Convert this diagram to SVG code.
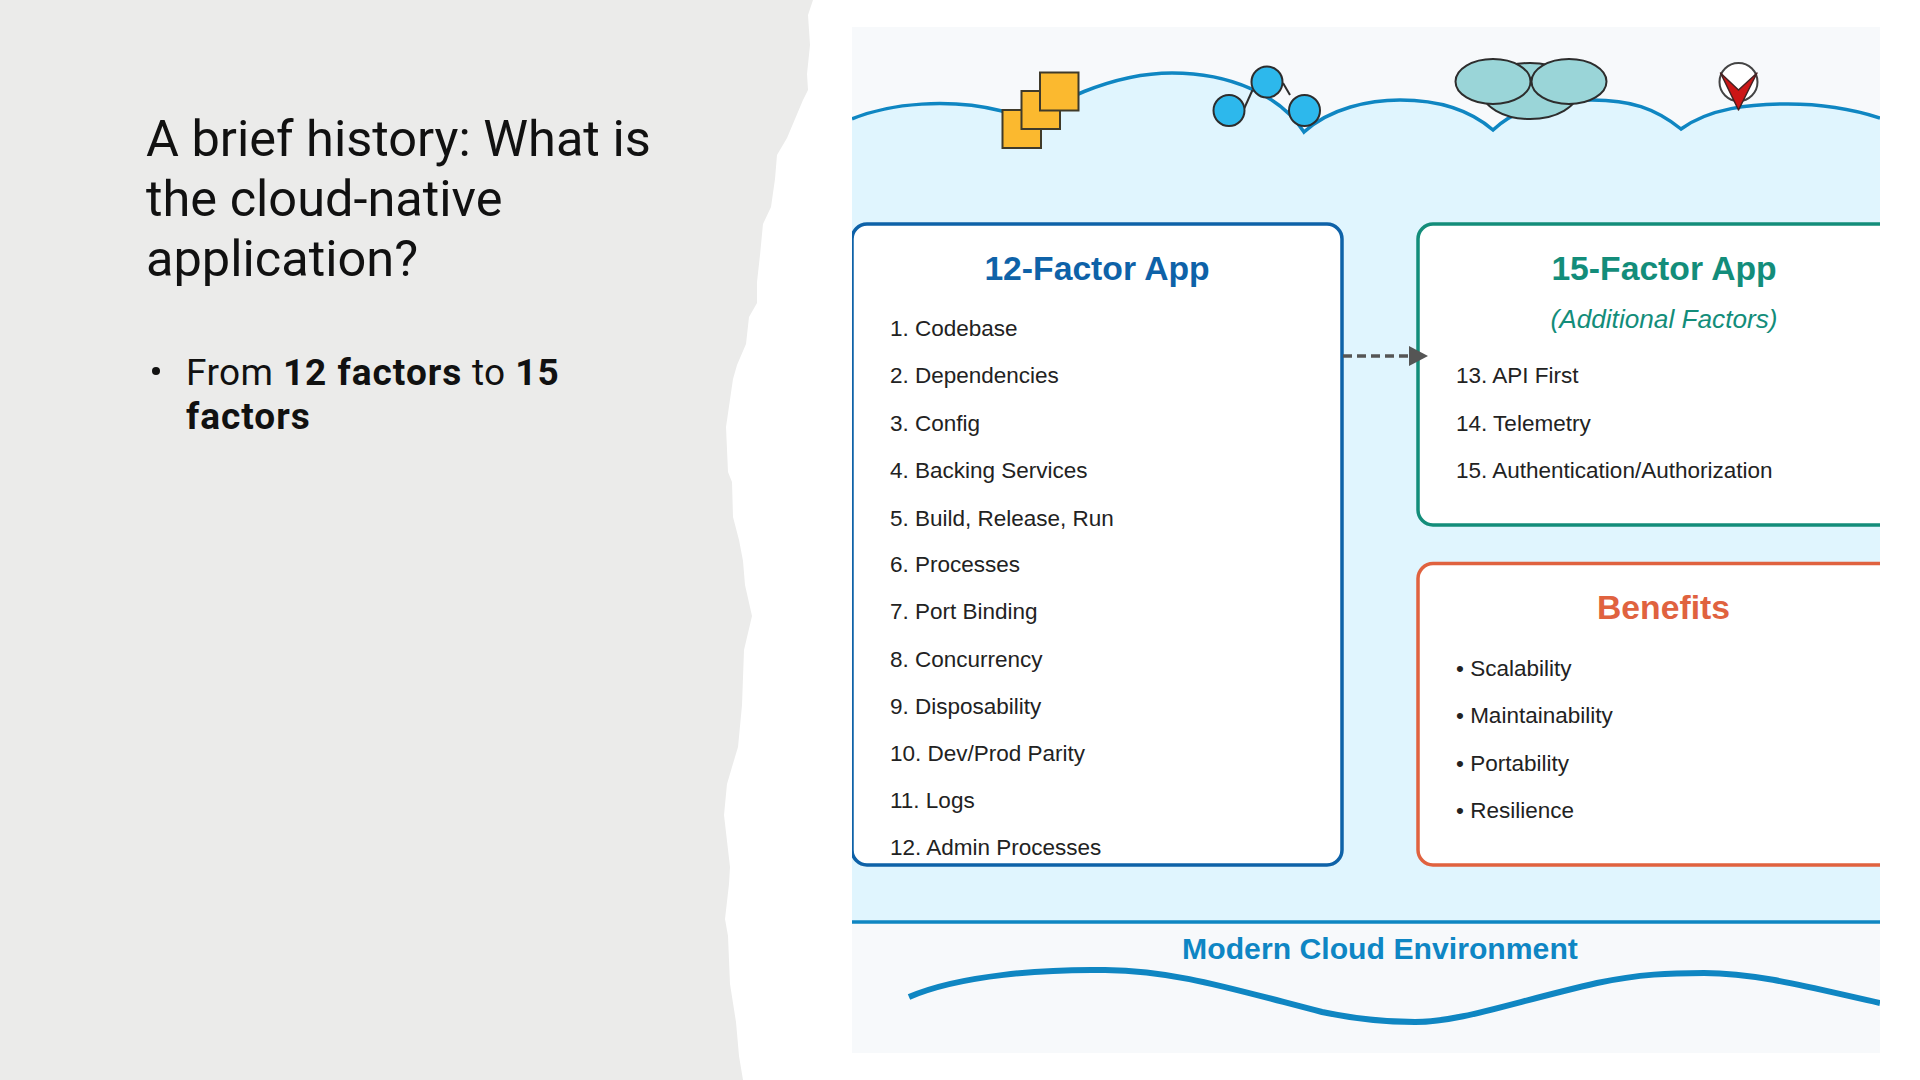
<svg xmlns="http://www.w3.org/2000/svg" width="1920" height="1080" viewBox="0 0 1920 1080">
<style>
.t{font-family:"Liberation Sans",Arial,sans-serif;font-size:22.5px;fill:#222}
.h{font-family:"Liberation Sans",Arial,sans-serif;font-size:33.7px;font-weight:700;text-anchor:middle}
.ttl{font-family:Roboto,"Noto Sans",sans-serif;font-size:50.5px;fill:#111}
.b{font-family:Roboto,"Noto Sans",sans-serif;font-size:37px;fill:#111;letter-spacing:.4px}
.sb{font-weight:700;letter-spacing:1px}
.bx{fill:#fff;stroke-width:3.5}
.dk{stroke:#2d2d2d;stroke-width:2}
</style>
<defs>
<clipPath id="panel"><rect x="852" y="27" width="1028" height="1026"/></clipPath>
<marker id="ah" markerUnits="userSpaceOnUse" markerWidth="19" markerHeight="20" refX="18" refY="10" orient="auto"><path d="M0 0L19 10L0 20Z" fill="#555"/></marker>
</defs>
<rect width="1920" height="1080" fill="#fff"/>
<path id="torn-paper" fill="#ebebea" d="M0 0H813L808 15L810 45L807 74L808 90L803 100L787 138L777 155L775 179L771 207L763 224L760 255L757 282L757 303L749 317L746 344L737 365L733 379L726 427L728 472L732 482L733 517L739 540L743 561L745 585L752 616L744 650L742 705L738 747L732 767L727 784L724 815L730 867L729 884L725 919L728 936L730 984L736 1022L739 1056L743 1080H0Z"/>
<g id="heading">
<text class="ttl" x="146" y="156">A brief history: What is</text>
<text class="ttl" x="146" y="216">the cloud-native</text>
<text class="ttl" x="146" y="276">application?</text>
</g>
<g id="bullet">
<circle cx="156" cy="371" r="4" fill="#111"/>
<text class="b" x="186" y="385">From <tspan class="sb">12 factors</tspan> to <tspan class="sb">15</tspan></text>
<text class="b sb" x="186" y="429">factors</text>
</g>
<g clip-path="url(#panel)">
<g id="backdrop">
<rect x="852" y="27" width="1028" height="1026" fill="#f7f9fb"/>
<path fill="#e0f5fe" d="M852 119C890 103 950 98 1002 111L1021 125C1050 105 1110 73 1172 73C1230 73 1280 95 1304 132C1330 108 1370 100 1400 100C1440 100 1470 110 1493 130C1520 105 1555 100 1592 100C1630 100 1655 108 1681 129C1710 108 1750 104 1788 104C1825 104 1855 110 1880 118V922H852Z"/>
<path fill="none" stroke="#0f86c2" stroke-width="3.5" d="M852 119C890 103 950 98 1002 111L1021 125C1050 105 1110 73 1172 73C1230 73 1280 95 1304 132C1330 108 1370 100 1400 100C1440 100 1470 110 1493 130C1520 105 1555 100 1592 100C1630 100 1655 108 1681 129C1710 108 1750 104 1788 104C1825 104 1855 110 1880 118"/>
<line x1="852" y1="922" x2="1880" y2="922" stroke="#0f86c2" stroke-width="3.5"/>
</g>
<g id="icon-squares" fill="#fbb92f" stroke="#3f3a2a" stroke-width="2">
<rect x="1002.5" y="110" width="38.5" height="38"/>
<rect x="1021.5" y="91" width="38.5" height="38"/>
<rect x="1040" y="72.500" width="38.5" height="38"/>
</g>
<g id="icon-network" fill="#2db8ec" class="dk">
<line x1="1243.500" y1="110" x2="1252.500" y2="90"/>
<line x1="1283" y1="83" x2="1290" y2="95"/>
<circle cx="1229" cy="110.500" r="15.500"/>
<circle cx="1267" cy="82" r="15.500"/>
<circle cx="1304.500" cy="110.500" r="15.500"/>
</g>
<g id="icon-cloud" fill="#9ad5d8" class="dk">
<ellipse cx="1530" cy="91" rx="48" ry="28"/>
<ellipse cx="1493" cy="81.500" rx="37.500" ry="22.500"/>
<ellipse cx="1569" cy="81.500" rx="37.500" ry="22.500"/>
</g>
<g id="icon-check">
<circle cx="1738.500" cy="82" r="19" fill="#fff" stroke="#444" stroke-width="2"/>
<path d="M1720.500 73L1738.500 90L1757 73L1738.500 110Z" fill="#cc1616" stroke="#442222" stroke-width="1.500" stroke-linejoin="round"/>
</g>
<g id="factor-12">
<rect class="bx" x="852" y="224" width="490" height="641" rx="15" stroke="#0e62a8"/>
<text class="h" x="1097" y="280" fill="#0e62a8">12-Factor App</text>
<text class="t" x="890" y="336">1. Codebase</text>
<text class="t" x="890" y="383">2. Dependencies</text>
<text class="t" x="890" y="431">3. Config</text>
<text class="t" x="890" y="478">4. Backing Services</text>
<text class="t" x="890" y="525.500">5. Build, Release, Run</text>
<text class="t" x="890" y="571.500">6. Processes</text>
<text class="t" x="890" y="618.500">7. Port Binding</text>
<text class="t" x="890" y="667">8. Concurrency</text>
<text class="t" x="890" y="714">9. Disposability</text>
<text class="t" x="890" y="761">10. Dev/Prod Parity</text>
<text class="t" x="890" y="808">11. Logs</text>
<text class="t" x="890" y="855">12. Admin Processes</text>
</g>
<g id="factor-15">
<rect class="bx" x="1418" y="224" width="560" height="301" rx="15" stroke="#138d7a"/>
<text class="h" x="1664" y="280" fill="#138d7a">15-Factor App</text>
<text x="1664" y="328" fill="#138d7a" text-anchor="middle" font-family="Liberation Sans, Arial, sans-serif" font-size="26.2" font-style="italic">(Additional Factors)</text>
<text class="t" x="1456" y="383">13. API First</text>
<text class="t" x="1456" y="431">14. Telemetry</text>
<text class="t" x="1456" y="478">15. Authentication/Authorization</text>
</g>
<g id="benefits">
<rect class="bx" x="1418" y="563.500" width="560" height="301.500" rx="15" stroke="#e0623f"/>
<text class="h" x="1663.500" y="619" fill="#e0623f">Benefits</text>
<text class="t" x="1456" y="676">• Scalability</text>
<text class="t" x="1456" y="723">• Maintainability</text>
<text class="t" x="1456" y="770.500">• Portability</text>
<text class="t" x="1456" y="817.500">• Resilience</text>
</g>
<g id="environment">
<text x="1380" y="959" fill="#0e86c4" text-anchor="middle" font-family="Liberation Sans, Arial, sans-serif" font-size="30.2" font-weight="700">Modern Cloud Environment</text>
<path d="M909 997C960 975 1045 969 1105 970C1175 971 1225 987 1322 1012C1355 1019 1385 1022 1415 1022C1460 1022 1510 1003 1597 983C1640 974 1670 973 1704 973C1760 973 1820 990 1880 1003" fill="none" stroke="#0f86c2" stroke-width="6"/>
</g>
</g>
<g id="connectors">
<line x1="1343" y1="356" x2="1427" y2="356" stroke="#555" stroke-width="3.500" stroke-dasharray="9 5" marker-end="url(#ah)"/>
</g>
</svg>
